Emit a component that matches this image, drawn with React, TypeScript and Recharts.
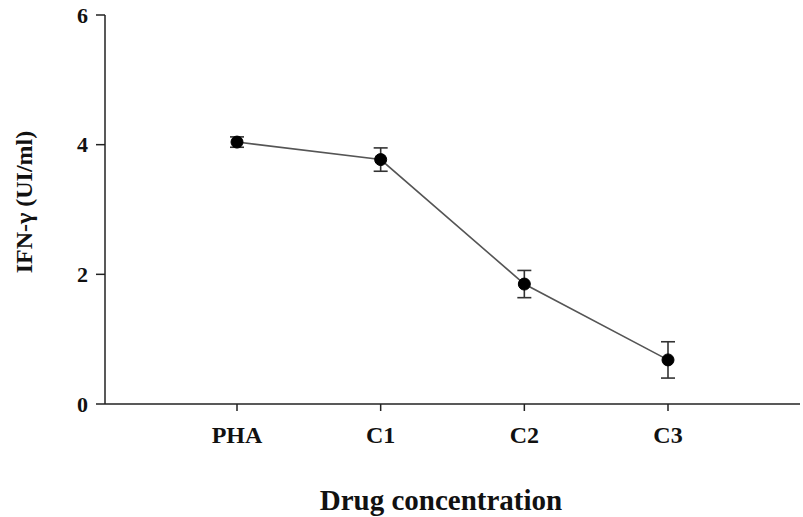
import React from 'react';
import { LineChart, Line, XAxis, YAxis, ErrorBar, Label } from 'recharts';

const categories = ['PHA', 'C1', 'C2', 'C3'];
const values = [4.04, 3.77, 1.85, 0.68];
const errors = [0.08, 0.18, 0.21, 0.28];
const yTicks = [0, 2, 4, 6];

const data = categories.map((name, i) => ({ name, value: values[i], err: errors[i] }));

const FONT = '"Liberation Serif", "Times New Roman", serif';

const YLabel = () => (
  <text
    x={24}
    y={202}
    transform="rotate(-90 24 202)"
    textAnchor="middle"
    dominantBaseline="central"
    fontFamily={FONT}
    fontWeight="bold"
    fontSize={24}
    fill="#111"
  >
    IFN-γ (UI/ml)
  </text>
);

const XLabel = () => (
  <text
    x={441}
    y={510}
    textAnchor="middle"
    fontFamily={FONT}
    fontWeight="bold"
    fontSize={29}
    fill="#111"
  >
    Drug concentration
  </text>
);

export default function App() {
  return (
    <div style={{ position: 'absolute', left: 0, top: 0, background: '#fff' }}>
      <LineChart width={803} height={517} data={data} margin={{ top: 15, right: 3, left: 0, bottom: 0 }}>
        <XAxis
          dataKey="name"
          type="category"
          padding={{ left: 132, right: 132 }}
          height={113}
          tickSize={7}
          tickMargin={15}
          axisLine={{ stroke: '#222', strokeWidth: 1.5 }}
          tickLine={{ stroke: '#222', strokeWidth: 1.5 }}
          tick={{ fill: '#111', fontFamily: FONT, fontWeight: 'bold', fontSize: 24 }}
        >
          <Label content={<XLabel />} />
        </XAxis>
        <YAxis
          type="number"
          domain={[0, 6]}
          ticks={yTicks}
          width={105}
          tickSize={9}
          tickMargin={8}
          axisLine={{ stroke: '#222', strokeWidth: 1.5 }}
          tickLine={{ stroke: '#222', strokeWidth: 1.5 }}
          tick={{ fill: '#111', fontFamily: FONT, fontWeight: 'bold', fontSize: 22 }}
        >
          <Label content={<YLabel />} />
        </YAxis>
        <Line
          dataKey="value"
          stroke="#555"
          strokeWidth={1.6}
          isAnimationActive={false}
          dot={{ r: 6, fill: '#000', stroke: '#000', strokeWidth: 1 }}
          activeDot={false}
        >
          <ErrorBar dataKey="err" width={7} stroke="#333" strokeWidth={1.6} direction="y" />
        </Line>
      </LineChart>
    </div>
  );
}
